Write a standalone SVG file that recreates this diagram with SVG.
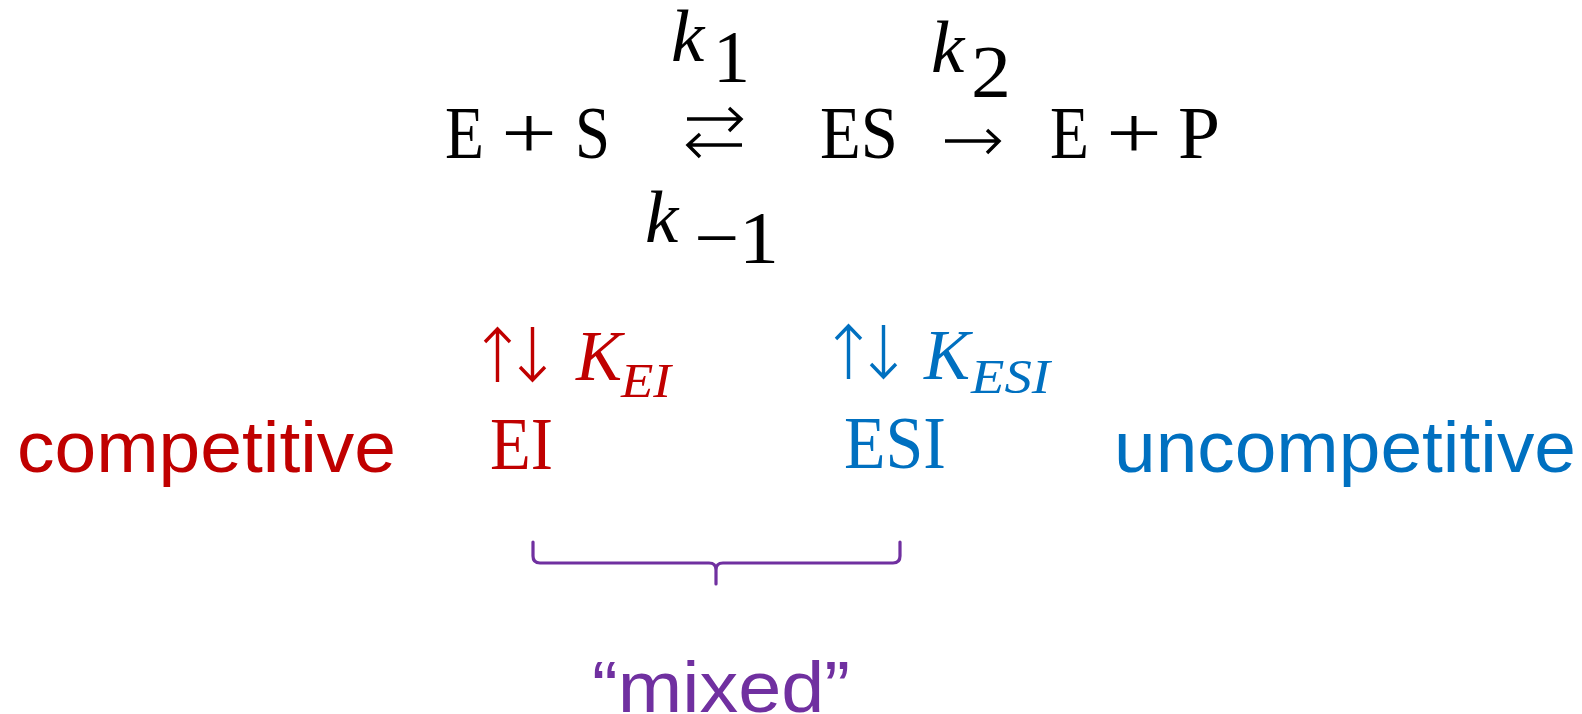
<svg xmlns="http://www.w3.org/2000/svg" width="1582" height="714" viewBox="0 0 1582 714">
<style>
.m{font-family:"Liberation Serif","DejaVu Serif",serif;font-size:75px;fill:#000}
.i{font-family:"Liberation Serif","DejaVu Serif",serif;font-style:italic}
.s{font-family:"Liberation Sans",Arial,sans-serif;font-size:72px}
.red{fill:#C00000}
.blue{fill:#0070C0}
.pur{fill:#7030A0}
.arr{fill:none;stroke-width:3.4;stroke-linecap:butt;stroke-linejoin:miter}
.k{stroke:#000}
.rs{stroke:#C00000}
.bs{stroke:#0070C0}
.brace{fill:none;stroke:#7030A0;stroke-width:3.2;stroke-linecap:round;stroke-linejoin:round}
</style>
<rect width="1582" height="714" fill="#fff"/>
<g id="reaction">
<text class="m" x="445" y="158" textLength="39" lengthAdjust="spacingAndGlyphs">E</text>
<text class="m" x="501" y="158" textLength="56" lengthAdjust="spacingAndGlyphs">+</text>
<text class="m" x="575" y="158" textLength="35" lengthAdjust="spacingAndGlyphs">S</text>
<text class="m" x="820" y="158" textLength="78" lengthAdjust="spacingAndGlyphs">ES</text>
<text class="m" x="1050" y="158" textLength="39" lengthAdjust="spacingAndGlyphs">E</text>
<text class="m" x="1106" y="158" textLength="56" lengthAdjust="spacingAndGlyphs">+</text>
<text class="m" x="1178" y="158" textLength="42" lengthAdjust="spacingAndGlyphs">P</text>
</g>
<g id="connectors">
<path class="arr k" d="M687,119 H741 M729,108 L741,119 L729,131"/>
<path class="arr k" d="M742,145 H688 M700,134 L688,145 L700,157"/>
<path class="arr k" d="M945,141 H999 M987,130 L999,141 L987,153"/>
<path class="brace" d="M533,542 L533,556 Q533,563 540,563 L709,563 Q716,563 716,570 L716,584 M716,570 Q716,563 723,563 L893,563 Q900,563 900,556 L900,542"/>
</g>
<g id="k1">
<text class="m i" x="671" y="61">k</text>
<text class="m" x="713" y="82" textLength="37" lengthAdjust="spacingAndGlyphs">1</text>
</g>
<g id="k2">
<text class="m i" x="931" y="72">k</text>
<text class="m" x="971" y="97" textLength="40" lengthAdjust="spacingAndGlyphs">2</text>
</g>
<g id="k-1">
<text class="m i" x="645" y="242">k</text>
<text class="m" x="694" y="263" textLength="85" lengthAdjust="spacingAndGlyphs">−1</text>
</g>
<g id="KEI">
<path class="arr rs" d="M497.5,382 V329 M485,342 L497.5,329 L510,342"/>
<path class="arr rs" d="M532.5,327 V380 M520,367 L532.5,380 L545,367"/>
<text class="i red" x="576" y="380" font-size="72" textLength="46" lengthAdjust="spacingAndGlyphs">K</text>
<text class="i red" x="621" y="397" font-size="48" textLength="50" lengthAdjust="spacingAndGlyphs">EI</text>
</g>
<g id="KESI">
<path class="arr bs" d="M848.5,379 V326 M836,339 L848.5,326 L861,339"/>
<path class="arr bs" d="M883.5,325 V377 M871,364 L883.5,377 L896,364"/>
<text class="i blue" x="924" y="379" font-size="72" textLength="46" lengthAdjust="spacingAndGlyphs">K</text>
<text class="i blue" x="971" y="393" font-size="48" textLength="79" lengthAdjust="spacingAndGlyphs">ESI</text>
</g>
<g id="competitive"><text class="s red" x="17" y="472" textLength="379" lengthAdjust="spacingAndGlyphs">competitive</text></g>
<g id="EI"><text class="m red" x="490" y="469" textLength="63" lengthAdjust="spacingAndGlyphs">EI</text></g>
<g id="ESI"><text class="m blue" x="844" y="468" textLength="102" lengthAdjust="spacingAndGlyphs">ESI</text></g>
<g id="uncompetitive"><text class="s blue" x="1114" y="472" textLength="462" lengthAdjust="spacingAndGlyphs">uncompetitive</text></g>
<g id="mixed"><text class="s pur" x="592" y="712" textLength="258" lengthAdjust="spacingAndGlyphs">“mixed”</text></g>
</svg>
